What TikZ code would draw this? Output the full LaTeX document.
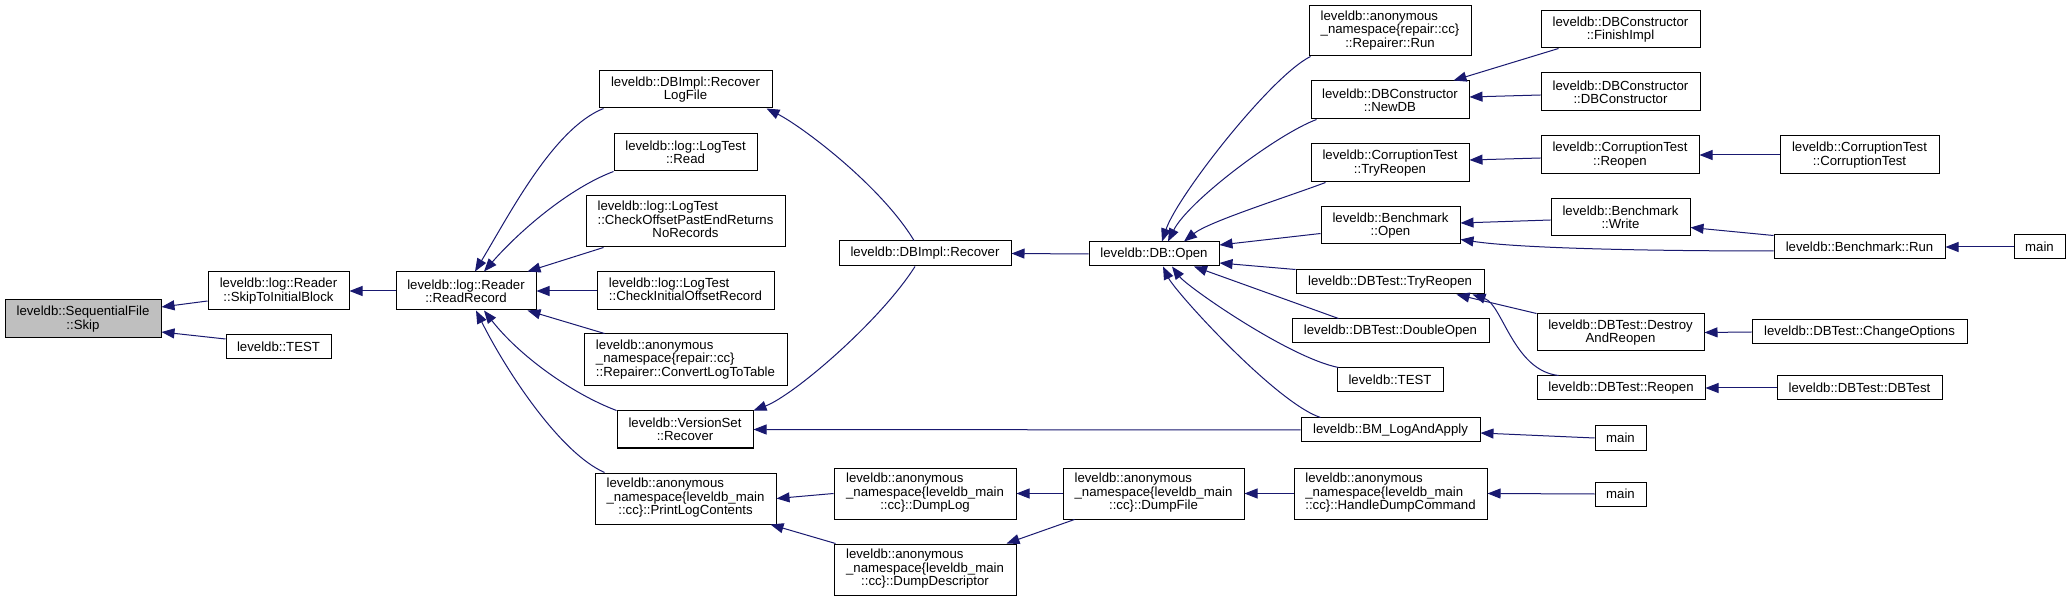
\documentclass[tikz,border=0pt]{standalone}
\usepackage{fontspec}
\setmainfont{Liberation Sans}
\usetikzlibrary{arrows.meta,calc}
\definecolor{mblue}{HTML}{191970}
\definecolor{rootgray}{HTML}{BFBFBF}
\tikzset{
  box/.style={draw=black, line width=1pt, fill=white, inner sep=0pt,
    font=\fontsize{13.2}{13.3}\selectfont},
  cbox/.style={box, align=center},
  cx/.style={draw=mblue, line width=1pt, {Triangle[length=13pt,width=10pt]}-},
}
\newcommand\nd[6][]{\node[box,#1,minimum width=#4,minimum height=#5] (#2) at (#3) {#6};}
\newcommand\tl[3]{\begin{tabular}{@{}l@{}}#1\\#2\\\multicolumn{1}{@{}c@{}}{#3}\end{tabular}}
\begin{document}
\begin{tikzpicture}[x=1pt,y=-1pt]
\useasboundingbox[fill=white] (0,0) rectangle (2070,601);
% nodes
\nd[align=center,fill=rootgray]{Skip}{83,319}{156}{38}{leveldb::SequentialFile\\::Skip}
\nd[align=center]{STIB}{278.5,291}{141}{38}{leveldb::log::Reader\\::SkipToInitialBlock}
\nd{TESTL}{278.5,347}{105}{24}{leveldb::TEST}
\nd[align=center]{RR}{466,291}{140}{38}{leveldb::log::Reader\\::ReadRecord}
\nd[align=center]{RLF}{685.5,89.5}{173}{37}{leveldb::DBImpl::Recover\\LogFile}
\nd[align=center]{LTR}{685.5,152.5}{143}{37}{leveldb::log::LogTest\\::Read}
\nd{COP}{685.5,221.5}{199}{51}{\tl{leveldb::log::LogTest}{::CheckOffsetPastEndReturns}{NoRecords}}
\nd{CIO}{685.5,291}{177}{38}{\begin{tabular}{@{}l@{}}leveldb::log::LogTest\\::CheckInitialOffsetRecord\end{tabular}}
\nd{CLT}{685.5,360}{203}{52}{\tl{leveldb::anonymous}{\_namespace\{repair::cc\}}{::Repairer::ConvertLogToTable}}
\nd[align=center]{VSR}{685,429.5}{136}{37}{leveldb::VersionSet\\::Recover}
\nd{PLC}{685.5,498.5}{181}{51}{\tl{leveldb::anonymous}{\_namespace\{leveldb\_main}{::cc\}::PrintLogContents}}
\nd{DIR}{925,253.5}{172}{25}{leveldb::DBImpl::Recover}
\nd{DL}{925,493.5}{182}{51}{\tl{leveldb::anonymous}{\_namespace\{leveldb\_main}{::cc\}::DumpLog}}
\nd{DD}{925,569.5}{182}{51}{\tl{leveldb::anonymous}{\_namespace\{leveldb\_main}{::cc\}::DumpDescriptor}}
\nd{DBO}{1154,254}{130}{24}{leveldb::DB::Open}
\nd{DF}{1153.5,493.5}{181}{51}{\tl{leveldb::anonymous}{\_namespace\{leveldb\_main}{::cc\}::DumpFile}}
\nd{RRun}{1390,31}{162}{50}{\tl{leveldb::anonymous}{\_namespace\{repair::cc\}}{::Repairer::Run}}
\nd[align=center]{NDB}{1390,100}{158}{38}{leveldb::DBConstructor\\::NewDB}
\nd[align=center]{CTTR}{1390,163}{158}{38}{leveldb::CorruptionTest\\::TryReopen}
\nd[align=center]{BO}{1390.5,225.5}{139}{37}{leveldb::Benchmark\\::Open}
\nd{DTTR}{1390,282}{188}{24}{leveldb::DBTest::TryReopen}
\nd{DO}{1390.5,331}{197}{24}{leveldb::DBTest::DoubleOpen}
\nd{TESTR}{1390,380}{106}{24}{leveldb::TEST}
\nd{BM}{1390.5,430}{179}{24}{leveldb::BM\_LogAndApply}
\nd{HDC}{1390.5,493.5}{193}{51}{\tl{leveldb::anonymous}{\_namespace\{leveldb\_main}{::cc\}::HandleDumpCommand}}
\nd[align=center]{FI}{1620.5,29.5}{159}{37}{leveldb::DBConstructor\\::FinishImpl}
\nd[align=center]{DBC}{1620.5,92}{159}{38}{leveldb::DBConstructor\\::DBConstructor}
\nd[align=center]{CTR}{1620,155}{158}{38}{leveldb::CorruptionTest\\::Reopen}
\nd[align=center]{BW}{1620.5,217.5}{139}{37}{leveldb::Benchmark\\::Write}
\nd[align=center]{DAR}{1620.5,332.5}{167}{37}{leveldb::DBTest::Destroy\\AndReopen}
\nd{DTR}{1621,388}{168}{24}{leveldb::DBTest::Reopen}
\nd{M2}{1620.5,438}{51}{24}{main}
\nd{M3}{1620.5,494}{51}{24}{main}
\nd[align=center]{CTCT}{1859.5,155}{159}{38}{leveldb::CorruptionTest\\::CorruptionTest}
\nd{BR}{1859.5,247}{171}{24}{leveldb::Benchmark::Run}
\nd{CO}{1859.5,332}{215}{24}{leveldb::DBTest::ChangeOptions}
\nd{DTDT}{1859.5,388}{165}{24}{leveldb::DBTest::DBTest}
\nd{M1}{2039.5,247}{51}{24}{main}
% edges (arrow at the called function)
\draw[cx] ($(Skip.east)+(0,-12)$) -- ($(STIB.west)+(0,10)$);
\draw[cx] ($(Skip.east)+(0,13)$) -- ($(TESTL.west)+(0,-8)$);
\draw[cx] (STIB.east) -- (RR.west);
\draw[cx] ($(RR.north)+(9,0)$) .. controls +(35,-58) and +(-50,20) .. ($(RLF.south west)+(5,0)$);
\draw[cx] ($(RR.north)+(18,0)$) .. controls +(35,-40) and +(-45,17) .. (LTR.south west);
\draw[cx] ($(RR.north east)+(-9,0)$) -- ($(COP.south west)+(18,0)$);
\draw[cx] (RR.east) -- (CIO.west);
\draw[cx] ($(RR.south east)+(-9,0)$) -- ($(CLT.north west)+(21,0)$);
\draw[cx] ($(RR.south)+(18,0)$) .. controls +(35,45) and +(-45,-17) .. (VSR.north west);
\draw[cx] ($(RR.south)+(10,0)$) .. controls +(30,60) and +(-45,-20) .. ($(PLC.north west)+(10,0)$);
\draw[cx] ($(RLF.south east)+(-6,0)$) .. controls +(34,17) and +(-34,-56) .. ($(DIR.north)+(-11,0)$);
\draw[cx] (VSR.north east) .. controls +(40,-15) and +(-35,55) .. ($(DIR.south)+(-10,0)$);
\draw[cx] (DIR.east) -- (DBO.west);
\draw[cx] (VSR.east) -- (BM.west);
\draw[cx] (PLC.east) -- (DL.west);
\draw[cx] ($(PLC.south east)+(-6,0)$) -- ($(DD.north west)+(2,0)$);
\draw[cx] (DL.east) -- (DF.west);
\draw[cx] ($(DD.north east)+(-10,0)$) -- ($(DF.south west)+(12,0)$);
\draw[cx] (DF.east) -- (HDC.west);
\draw[cx] (HDC.east) -- (M3.west);
\draw[cx] ($(DBO.north)+(8,0)$) .. controls +(15,-45) and +(-40,20) .. ($(RRun.south west)+(2,0)$);
\draw[cx] ($(DBO.north)+(14,0)$) .. controls +(20,-40) and +(-40,15) .. ($(NDB.south west)+(6,0)$);
\draw[cx] ($(DBO.north)+(30,0)$) .. controls +(25,-20) and +(-40,15) .. ($(CTTR.south west)+(15,0)$);
\draw[cx] ($(DBO.east)+(0,-9)$) -- ($(BO.west)+(0,8)$);
\draw[cx] ($(DBO.east)+(0,9)$) -- (DTTR.north west);
\draw[cx] ($(DBO.south)+(40,0)$) -- ($(DO.north)+(-52,0)$);
\draw[cx] ($(DBO.south)+(18,0)$) .. controls +(15,20) and +(-50,-10) .. ($(TESTR.north west)+(2,0)$);
\draw[cx] ($(DBO.south)+(9,0)$) .. controls +(12,25) and +(-45,-15) .. ($(BM.north west)+(20,0)$);
\draw[cx] ($(NDB.north east)+(-16,0)$) -- ($(FI.south west)+(18,0)$);
\draw[cx] ($(NDB.east)+(0,-3)$) -- ($(DBC.west)+(0,3)$);
\draw[cx] ($(CTTR.east)+(0,-3)$) -- ($(CTR.west)+(0,3)$);
\draw[cx] (CTR.east) -- (CTCT.west);
\draw[cx] ($(BO.east)+(0,-2.5)$) -- ($(BW.west)+(0,2.5)$);
\draw[cx] ($(BO.east)+(0,14)$) .. controls +(60,9) and +(-120,0) .. ($(BR.west)+(0,4)$);
\draw[cx] ($(BW.east)+(0,10)$) -- ($(BR.north west)+(0,1)$);
\draw[cx] (BR.east) -- (M1.west);
\draw[cx] ($(DTTR.south east)+(-28,0)$) -- (DAR.north west);
\draw[cx] ($(DTTR.south east)+(-12,0)$) .. controls +(30,10) and +(-45,-5) .. ($(DTR.north west)+(22,0)$);
\draw[cx] (DAR.east) -- (CO.west);
\draw[cx] (DTR.east) -- (DTDT.west);
\draw[cx] ($(BM.east)+(0,3)$) -- (M2.west);
\end{tikzpicture}
\end{document}
